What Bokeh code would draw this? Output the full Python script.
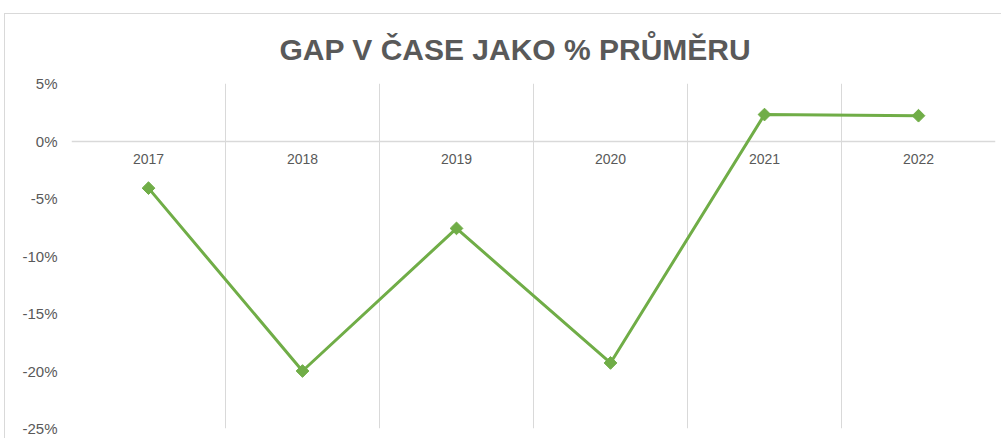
import math
from bokeh.plotting import figure
from bokeh.models import (ColumnDataSource, FixedTicker, PrintfTickFormatter, Range1d, Title)
from bokeh.core.properties import value
from bokeh.embed import file_html
from bokeh.resources import INLINE

# ---- data ----
years = ["2017", "2018", "2019", "2020", "2021", "2022"]
gap_pct = [-4.1, -20.0, -7.6, -19.3, 2.3, 2.2]
y_ticks = [-25, -20, -15, -10, -5, 0, 5]

xs = list(range(1, len(years) + 1))
src = ColumnDataSource(dict(x=xs, y=gap_pct, label=years, zero=[0] * len(years)))

FONT = "Liberation Sans"
GREY = "#595959"
GRID = "#d9d9d9"
GREEN = "#70ad47"

border_css = (":host::after { content: ''; position: absolute; left: 4px; top: 0px; "
              "width: 3000px; height: 3000px; border-left: 1px solid #d9d9d9; "
              "border-top: 1px solid #d9d9d9; pointer-events: none; }")

p = figure(width=1001, height=425, output_backend="svg", toolbar_location=None,
           x_range=Range1d(0.5, len(years) + 0.5), y_range=Range1d(-25, 5),
           min_border_left=71, min_border_right=6, min_border_top=10,
           min_border_bottom=10, outline_line_color=None,
           margin=(13, 0, 0, 0), stylesheets=[border_css])

title = Title(text="GAP V ČASE JAKO % PRŮMĚRU", align="left", offset=208,
              text_font=FONT, text_font_size="30px", text_font_style="bold",
              text_color=GREY, standoff=35)
p.add_layout(title, "above")

# axes
p.xaxis.visible = False
ax = p.yaxis[0]
ax.ticker = FixedTicker(ticks=y_ticks)
ax.formatter = PrintfTickFormatter(format="%d%%")
ax.axis_line_color = None
ax.major_tick_line_color = None
ax.minor_tick_line_color = None
ax.major_tick_out = 0
ax.major_tick_in = 0
ax.major_label_text_font = FONT
ax.major_label_text_font_size = "15px"
ax.major_label_text_color = GREY
ax.major_label_standoff = 14

# grids
p.xgrid.ticker = FixedTicker(ticks=[i + 0.5 for i in range(len(years) + 1)])
p.xgrid.grid_line_color = GRID
p.xgrid.grid_line_width = 1
p.ygrid.ticker = FixedTicker(ticks=[0])
p.ygrid.grid_line_color = GRID
p.ygrid.grid_line_width = 1.5

# category labels at the zero line
p.text(x="x", y="zero", text="label", source=src, y_offset=18,
       text_align="center", text_baseline="middle",
       text_font=value(FONT), text_font_size="14px", text_color=GREY)

# series
p.line(x="x", y="y", source=src, line_color=GREEN, line_width=3)
p.scatter(x="x", y="y", source=src, marker="square", size=9, angle=math.pi / 4,
          fill_color=GREEN, line_color=GREEN)

open("out.html", "w").write(file_html(p, INLINE))
